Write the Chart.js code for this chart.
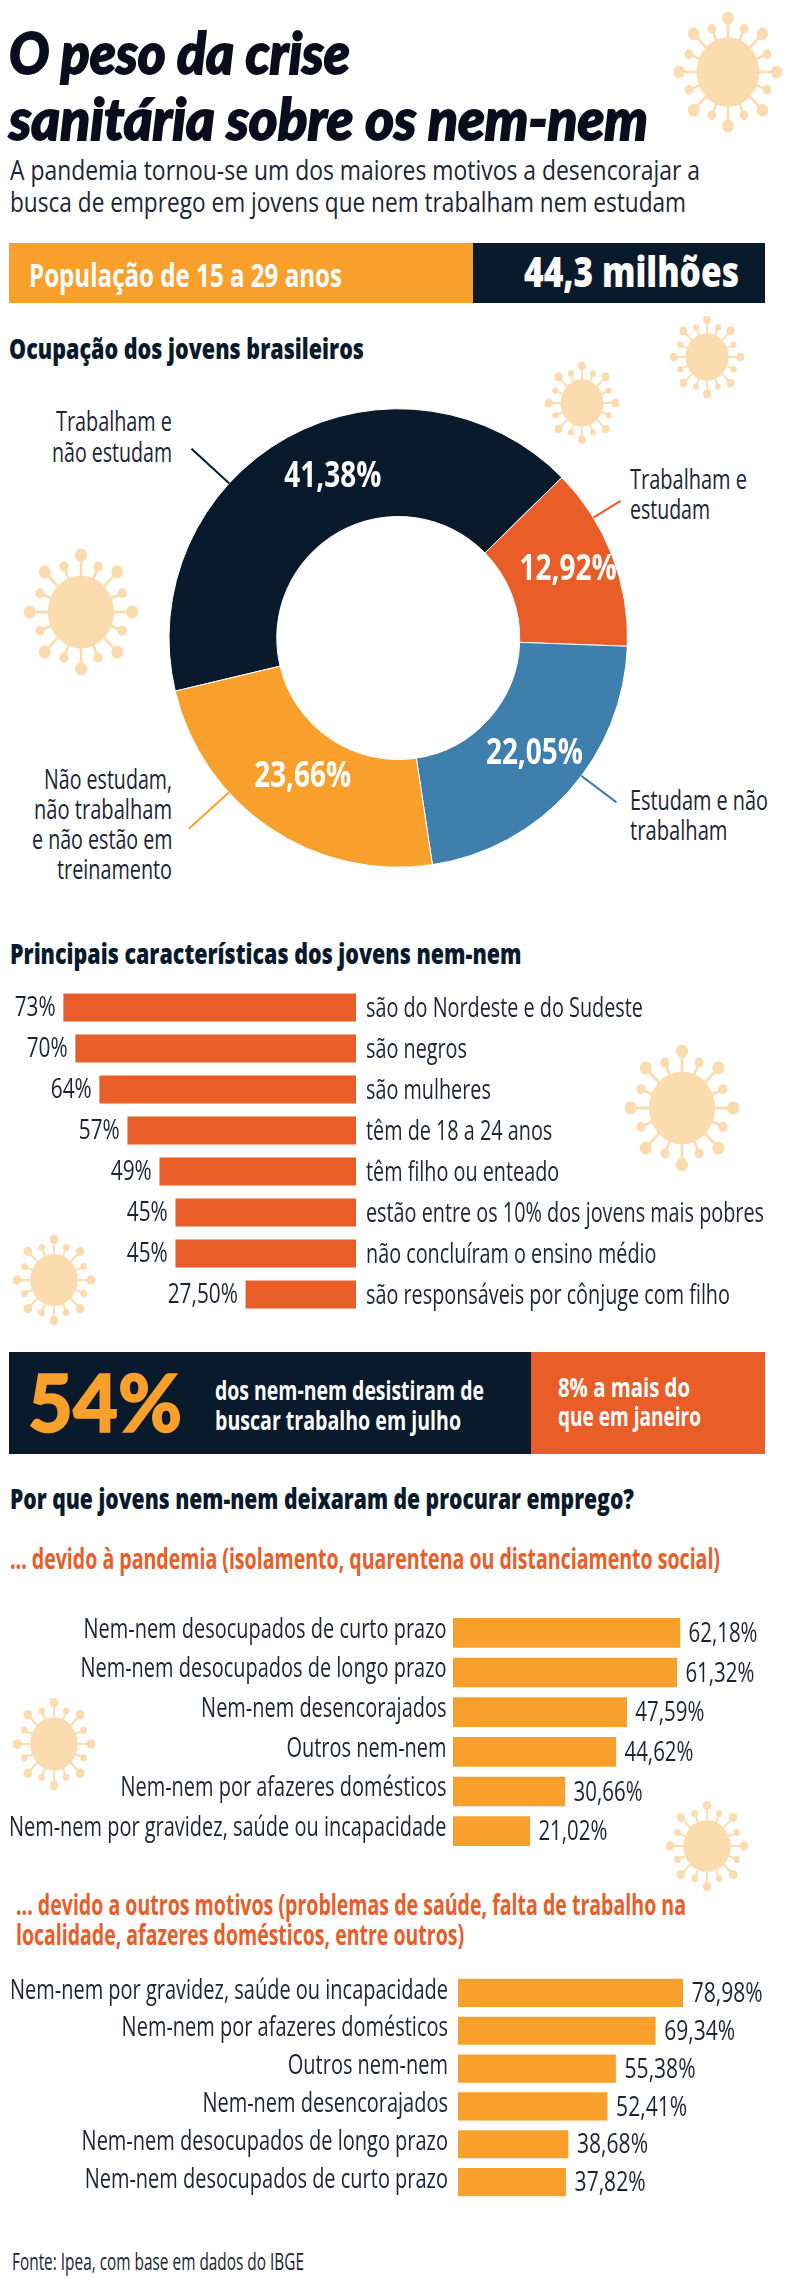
<!DOCTYPE html>
<html lang="pt-BR">
<head>
<meta charset="utf-8">
<title>O peso da crise sanitária sobre os nem-nem</title>
<script src="https://cdn.jsdelivr.net/npm/chart.js@4"></script>
<style>
    html, body { margin: 0; padding: 0; background: #fff; overflow: hidden; }
    #page { position: relative; width: 792px; height: 2279px; overflow: hidden; }
    .box, .virus, .chart, .txt { position: absolute; }
    .txt { white-space: pre; line-height: 1; transform-origin: 0 0; }
    .chart canvas { display: block; }
</style>
</head>
<body>
<div id="page"></div>
<script>
// donut
const occupationLabels = ['Trabalham e não estudam', 'Trabalham e estudam', 'Estudam e não trabalham', 'Não estudam, não trabalham e não estão em treinamento'];
const occupationValues = [41.38, 12.92, 22.05, 23.66];
const occupationText = ['41,38%', '12,92%', '22,05%', '23,66%'];

// orange bars, reversed
const traitLabels = ['são do Nordeste e do Sudeste', 'são negros', 'são mulheres', 'têm de 18 a 24 anos', 'têm filho ou enteado', 'estão entre os 10% dos jovens mais pobres', 'não concluíram o ensino médio', 'são responsáveis por cônjuge com filho'];
const traitValues = [73, 70, 64, 57, 49, 45, 45, 27.5];
const traitText = ['73%', '70%', '64%', '57%', '49%', '45%', '45%', '27,50%'];

const pandemicLabels = ['Nem-nem desocupados de curto prazo', 'Nem-nem desocupados de longo prazo', 'Nem-nem desencorajados', 'Outros nem-nem', 'Nem-nem por afazeres domésticos', 'Nem-nem por gravidez, saúde ou incapacidade'];
const pandemicValues = [62.18, 61.32, 47.59, 44.62, 30.66, 21.02];

const otherLabels = ['Nem-nem por gravidez, saúde ou incapacidade', 'Nem-nem por afazeres domésticos', 'Outros nem-nem', 'Nem-nem desencorajados', 'Nem-nem desocupados de longo prazo', 'Nem-nem desocupados de curto prazo'];
const otherValues = [78.98, 69.34, 55.38, 52.41, 38.68, 37.82];

const NAVY = '#0a1a2d';
const ORANGE = '#e95d28';
const YELLOW = '#f9a02c';
const BLUE = '#3f7fae';
const SKIN = '#fcdcae';
const INK = '#1d2433';
const SANS = '"Open Sans"';

const page = document.getElementById('page');
const measure = document.createElement('canvas').getContext('2d');

function box(x, y, w, h, color) {
    const el = document.createElement('div');
    el.className = 'box';
    el.style.cssText = `left:${x}px;top:${y}px;width:${w}px;height:${h}px;background:${color}`;
    page.appendChild(el);
}

// puts a line of text on its baseline and squeezes it to the width
function text(str, x, base, width, size, color, opts = {}) {
    const { family = SANS, weight = 400, style = 'normal', align = 'left', stroke = 0 } = opts;
    const font = `${style} ${weight} ${size}px ${family}`;
    measure.font = font;
    const m = measure.measureText(str);
    const el = document.createElement('div');
    el.className = 'txt';
    el.textContent = str;
    const top = base - size / 2 - (m.fontBoundingBoxAscent - m.fontBoundingBoxDescent) / 2;
    const sx = width / m.width;
    const left = align === 'right' ? x - width : x;
    el.style.cssText = `left:${left}px;top:${top}px;font:${font};line-height:1;color:${color};transform:scaleX(${sx})`;
    if (stroke) el.style.webkitTextStroke = `${stroke}px ${color}`;
    page.appendChild(el);
}

function virus(cx, cy, rx, ry) {
    const ns = 'http://www.w3.org/2000/svg';
    const svg = document.createElementNS(ns, 'svg');
    svg.setAttribute('class', 'virus');
    svg.setAttribute('width', rx * 2);
    svg.setAttribute('height', ry * 2);
    svg.setAttribute('viewBox', '-100 -100 200 200');
    svg.setAttribute('preserveAspectRatio', 'none');
    svg.style.left = (cx - rx) + 'px';
    svg.style.top = (cy - ry) + 'px';
    let s = `<circle r="58" fill="${SKIN}"/>`;
    for (let i = 0; i < 16; i++) {
        const a = i * Math.PI / 8;
        const odd = i % 2 === 1;
        const len = odd ? 78 : 90;
        const ball = odd ? 8 : 10.5;
        s += `<line x2="${len * Math.sin(a)}" y2="${-len * Math.cos(a)}" stroke="${SKIN}" stroke-width="4.5"/>`;
        s += `<circle cx="${len * Math.sin(a)}" cy="${-len * Math.cos(a)}" r="${ball}" fill="${SKIN}"/>`;
    }
    svg.innerHTML = s;
    page.appendChild(svg);
}

function chartCanvas(top, height) {
    const wrap = document.createElement('div');
    wrap.className = 'chart';
    wrap.style.cssText = `left:0;top:${top}px;width:792px;height:${height}px`;
    const canvas = document.createElement('canvas');
    canvas.width = 792;
    canvas.height = height;
    wrap.appendChild(canvas);
    page.appendChild(wrap);
    return canvas;
}

// canvas has no condensed face either, so squeeze with a transform
function squeezedText(ctx, str, x, y, sx) {
    ctx.save();
    ctx.translate(x, y);
    ctx.scale(sx, 1);
    ctx.fillText(str, 0, 0);
    ctx.restore();
}

function squeezeFor(ctx, font, str, width) {
    ctx.save();
    ctx.font = font;
    const w = ctx.measureText(str).width;
    ctx.restore();
    return width / w;
}

// decoration first so that everything else sits on top
virus(728, 72, 54, 60);
virus(707, 357, 37, 41);
virus(582, 403, 37, 41);
virus(81, 612, 57, 63);
virus(682, 1108, 57, 63);
virus(54, 1280, 41, 45);
virus(54, 1744, 41, 46);
virus(707, 1846, 41, 45);

// header
const TITLE = { family: 'Lato', weight: 900, style: 'italic', stroke: 1.8 };
const HEAD = { weight: 800 };
text('O peso da crise', 9, 74, 341, 58, '#0b0d1c', TITLE);
text('sanitária sobre os nem-nem', 9, 140, 639, 58, '#0b0d1c', TITLE);
text('A pandemia tornou-se um dos maiores motivos a desencorajar a', 10, 180, 690, 28, INK);
text('busca de emprego em jovens que nem trabalham nem estudam', 10, 212, 676, 28, INK);

box(9, 243, 464, 60, YELLOW);
box(473, 243, 292, 60, NAVY);
text('População de 15 a 29 anos', 29, 287, 313, 33, '#fff', { weight: 700 });
text('44,3 milhões', 524, 287, 215, 43, '#fff', HEAD);

text('Ocupação dos jovens brasileiros', 9, 359, 355, 28, NAVY, HEAD);

// donut side labels
const LEFT_SIDE = { align: 'right' };
text('Trabalham e', 172, 431, 116, 27, INK, LEFT_SIDE);
text('não estudam', 172, 462, 120, 27, INK, LEFT_SIDE);
text('Trabalham e', 630, 489, 117, 27, INK);
text('estudam', 630, 519, 80, 27, INK);
text('Estudam e não', 630, 810, 138, 27, INK);
text('trabalham', 630, 840, 97.5, 27, INK);
text('Não estudam,', 172, 789, 128, 27, INK, LEFT_SIDE);
text('não trabalham', 172, 819, 138, 27, INK, LEFT_SIDE);
text('e não estão em', 172, 849, 140.5, 27, INK, LEFT_SIDE);
text('treinamento', 172, 879, 115, 27, INK, LEFT_SIDE);

text('Principais características dos jovens nem-nem', 10, 963.5, 511.5, 28, NAVY, HEAD);

// banner
box(9, 1352, 522, 102, NAVY);
box(531, 1352, 234, 102, ORANGE);
text('54%', 28, 1432, 154, 80, YELLOW, { family: 'Lato', weight: 900, stroke: 1.5 });
text('dos nem-nem desistiram de', 215, 1400, 269, 27, '#fff', { weight: 700 });
text('buscar trabalho em julho', 215, 1430, 246, 27, '#fff', { weight: 700 });
text('8% a mais do', 558, 1397, 132, 27, '#fff', { weight: 700 });
text('que em janeiro', 558, 1426, 143, 27, '#fff', { weight: 700 });

text('Por que jovens nem-nem deixaram de procurar emprego?', 10, 1509, 624, 28, NAVY, HEAD);
text('... devido à pandemia (isolamento, quarentena ou distanciamento social)', 10, 1569, 710, 28, ORANGE, { weight: 700 });
text('... devido a outros motivos (problemas de saúde, falta de trabalho na', 16, 1915, 670, 28, ORANGE, { weight: 700 });
text('localidade, afazeres domésticos, entre outros)', 16, 1945, 448, 28, ORANGE, { weight: 700 });
text('Fonte: Ipea, com base em dados do IBGE', 12, 2270, 292, 24, INK);

// white percentages and leader lines, both placed along each arc
const donutNotes = {
    id: 'donutNotes',
    afterDatasetsDraw(chart) {
        const ctx = chart.ctx;
        const arcs = chart.getDatasetMeta(0).data;
        const colors = [NAVY, ORANGE, BLUE, YELLOW];
        const labelAt = [0.546, 0.486, 0.484, 0.505];
        const labelR = [174, 183, 179, 169];
        const lineAt = [0.375, 0.275, 0.44, 0.66];
        const lineLen = [51, 32, 44, 54];
        const font = `700 35px ${SANS}`;
        const sx = squeezeFor(ctx, font, occupationText[0], 97);
        arcs.forEach((arc, i) => {
            const a = arc.startAngle + (arc.endAngle - arc.startAngle) * labelAt[i];
            ctx.save();
            ctx.fillStyle = '#fff';
            ctx.font = font;
            ctx.textAlign = 'center';
            ctx.textBaseline = 'middle';
            squeezedText(ctx, occupationText[i], arc.x + labelR[i] * Math.cos(a), arc.y + labelR[i] * Math.sin(a), sx);
            const b = arc.startAngle + (arc.endAngle - arc.startAngle) * lineAt[i];
            ctx.strokeStyle = colors[i];
            ctx.lineWidth = 2;
            ctx.beginPath();
            ctx.moveTo(arc.x + arc.outerRadius * Math.cos(b), arc.y + arc.outerRadius * Math.sin(b));
            ctx.lineTo(arc.x + (arc.outerRadius + lineLen[i]) * Math.cos(b), arc.y + (arc.outerRadius + lineLen[i]) * Math.sin(b));
            ctx.stroke();
            ctx.restore();
        });
    }
};

new Chart(chartCanvas(400, 480), {
    type: 'doughnut',
    data: {
        labels: occupationLabels,
        datasets: [{
            data: occupationValues,
            backgroundColor: [NAVY, ORANGE, BLUE, YELLOW],
            borderColor: '#fff',
            borderWidth: 1
        }]
    },
    options: {
        responsive: false,
        animation: false,
        cutout: '53%',
        rotation: 256.6,
        layout: { padding: { left: 168.5, right: 164, top: 8, bottom: 12 } },
        plugins: { legend: { display: false }, tooltip: { enabled: false } }
    },
    plugins: [donutNotes]
});

// horizontal bars; category and value text go on through a plugin so they can be condensed
function barChart(cfg) {
    const barText = {
        id: 'barText',
        afterDatasetsDraw(chart) {
            const ctx = chart.ctx;
            const y = chart.scales.y;
            const font = `400 27px ${SANS}`;
            const labelFit = squeezeFor(ctx, font, cfg.labels[cfg.fitIndex], cfg.fitWidth);
            const valueFit = squeezeFor(ctx, font, cfg.text[0], cfg.valueWidth);
            ctx.save();
            ctx.font = font;
            ctx.textBaseline = 'middle';
            ctx.fillStyle = INK;
            y.ticks.forEach((tick, i) => {
                const bar = chart.getDatasetMeta(0).data[i];
                const py = y.getPixelForTick(i);
                if (cfg.reverse) {
                    ctx.textAlign = 'left';
                    squeezedText(ctx, tick.label, chart.chartArea.right + cfg.padding, py + cfg.labelShift, labelFit);
                    ctx.textAlign = 'right';
                    squeezedText(ctx, cfg.text[i], bar.x - cfg.valueGap, py + cfg.valueShift, valueFit);
                } else {
                    ctx.textAlign = 'right';
                    squeezedText(ctx, tick.label, chart.chartArea.left - cfg.padding, py + cfg.labelShift, labelFit);
                    ctx.textAlign = 'left';
                    squeezedText(ctx, cfg.text[i], bar.x + cfg.valueGap, py + cfg.valueShift, valueFit);
                }
            });
            ctx.restore();
        }
    };
    new Chart(chartCanvas(cfg.top, cfg.height), {
        type: 'bar',
        data: {
            labels: cfg.labels,
            datasets: [{ data: cfg.values, backgroundColor: cfg.color, barThickness: cfg.thickness }]
        },
        options: {
            indexAxis: 'y',
            responsive: false,
            animation: false,
            layout: { padding: 0 },
            scales: {
                x: { display: false, min: 0, max: cfg.max, reverse: !!cfg.reverse },
                y: {
                    position: cfg.reverse ? 'right' : 'left',
                    border: { display: false },
                    grid: { display: false, drawTicks: false },
                    afterFit: scale => { scale.width = cfg.axisWidth; },
                    ticks: { display: false, autoSkip: false }
                }
            },
            plugins: { legend: { display: false }, tooltip: { enabled: false } }
        },
        plugins: [barText]
    });
}

const pct = v => v.toFixed(2).replace('.', ',') + '%';

barChart({
    top: 987.25, height: 328, labels: traitLabels, values: traitValues, text: traitText,
    color: ORANGE, thickness: 27.5, max: 356 / 4.004, reverse: true, axisWidth: 436,
    padding: 10, fitIndex: 5, fitWidth: 398, labelShift: 2,
    valueWidth: 41, valueGap: 8, valueShift: 0.5
});

barChart({
    top: 1612.65, height: 238, labels: pandemicLabels, values: pandemicValues,
    text: pandemicValues.map(pct),
    color: YELLOW, thickness: 29, max: 339 / 3.648, axisWidth: 453,
    padding: 6.5, fitIndex: 5, fitWidth: 437.6, labelShift: -3,
    valueWidth: 69, valueGap: 8.7, valueShift: 1.5
});

barChart({
    top: 1974, height: 227, labels: otherLabels, values: otherValues,
    text: otherValues.map(pct),
    color: YELLOW, thickness: 27.5, max: 334 / 2.845, axisWidth: 458,
    padding: 10, fitIndex: 0, fitWidth: 438, labelShift: -2,
    valueWidth: 71, valueGap: 9, valueShift: 1.5
});
</script>
</body>
</html>
